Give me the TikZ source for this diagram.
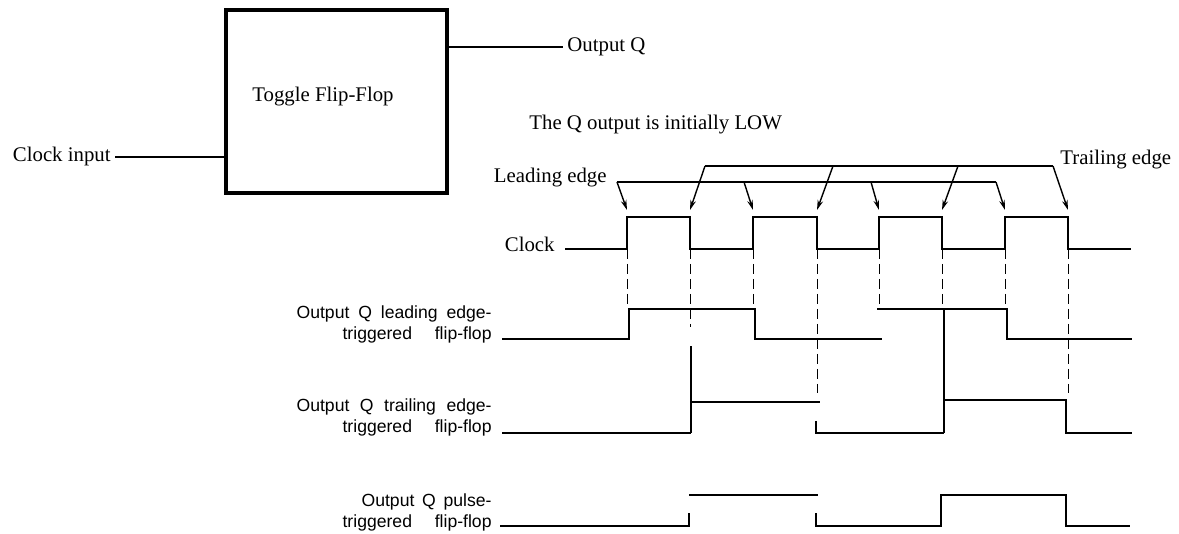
\documentclass[tikz,border=0pt]{standalone}
\usepackage{fontspec}
\setmainfont{Liberation Serif}
\setsansfont{Liberation Sans}
\usetikzlibrary{arrows.meta,calc}

\begin{document}
\begin{tikzpicture}[x=0.5pt, y=-0.5pt, >={Stealth[length=5pt,width=2.8pt]},
  font=\fontsize{10.4pt}{12pt}\selectfont,
  every node/.style={inner sep=2pt},
  wave/.style={line width=1.4pt},
  rise/.style={line width=0.9pt},
  thin/.style={line width=0.7pt},
  guide/.style={line width=0.45pt, dash pattern=on 5pt off 2.5pt},
  lab/.style={font=\sffamily\fontsize{8.8pt}{10.5pt}\selectfont, anchor=east,
    align=right, inner sep=0pt}]
  \useasboundingbox (0,0) rectangle (1179,534);
  % levels
  \def\yCH{217}
  \def\yCL{249}
  \def\yLH{309}
  \def\yLL{339}
  \def\yTH{402}
  \def\yTL{433}
  \def\yPH{495}
  \def\yPL{526}
  % flip-flop block
  \node (ff) [draw, line width=1.8pt, minimum width=110.5pt, minimum height=91.5pt]
    at (336.5,101.5) {};
  \node (fftxt) at (323,97) {Toggle Flip-Flop};
  \node (clkin) [anchor=east] at (115,157) {Clock input};
  \draw[thin] (clkin.east) -- (clkin.east -| ff.west);
  \node (outq) [anchor=west] at (563,47) {Output Q};
  \draw[thin] (outq.west -| ff.east) -- (outq.west);
  \node (note) [anchor=west] at (525,125) {The Q output is initially LOW};
  % edge labels and pointers
  \node (lead) [anchor=east] at (611,178) {Leading edge};
  \node (trail) [anchor=west] at (1056,160) {Trailing edge};
  \node (clk) [anchor=east] at (559,244) {Clock};
  \coordinate (lbar) at (617,182);
  \coordinate (tbar) at (705,166);
  \draw[thin] (lbar) -- (996,182);
  \draw[thin] (tbar) -- (1053,166);
  \foreach \xs/\xt in {617/627, 744/753, 871/879, 996/1005}
    \draw[thin, ->] (\xs,182) -- (\xt,210);
  \foreach \xs/\xt in {705/690, 833/817, 958/942, 1053/1068}
    \draw[thin, ->] (\xs,166) -- (\xt,210);
  % clock
  \draw[wave] (565,\yCL) -| (627,\yCH) -| (690,\yCL) -| (753,\yCH) -| (817,\yCL)
    -| (879,\yCH) -| (942,\yCL) -| (1005,\yCH) -| (1068,\yCL) -- (1131,\yCL);
  \foreach \x/\ye in {627/307, 690/327, 753/307, 817/393, 879/307, 942/307,
    1005/307, 1068/393}
    \draw[guide] (\x,\yCL) -- (\x,\ye);
  % leading edge-triggered
  \node (lqa) [lab] at (492,324.5)
    {\makebox[97.5pt][s]{Output Q leading edge-}\\\makebox[74.5pt][s]{triggered flip-flop}};
  \draw[wave] (502,\yLL) -| (629,\yLH) -| (755,\yLL) -- (882,\yLL);
  \draw[wave] (877,\yLH) -| (1007,\yLL) -- (1132,\yLL);
  % trailing edge-triggered
  \node (lqb) [lab] at (492,417.5)
    {\makebox[97.5pt][s]{Output Q trailing edge-}\\\makebox[74.5pt][s]{triggered flip-flop}};
  \draw[wave] (502,\yTL) -- (691,\yTL);
  \draw[rise] (691,\yTL) -- (691,346);
  \draw[wave] (690,\yTH) -- (820,\yTH);
  \draw[wave] (816,421) |- (944,\yTL);
  \draw[rise] (944,\yTL) -- (944,\yLH);
  \draw[wave] (944,400) -| (1066,\yTL) -- (1132,\yTL);
  % pulse-triggered
  \node (lqc) [lab] at (492,512)
    {\makebox[65pt][s]{Output Q pulse-}\\\makebox[74.5pt][s]{triggered flip-flop}};
  \draw[wave] (500,\yPL) -| (689,513);
  \draw[wave] (689,\yPH) -- (818,\yPH);
  \draw[wave] (816,513) |- (941,\yPL) |- (1066,\yPH) -- (1066,\yPL) -- (1130,\yPL);
\end{tikzpicture}
\end{document}
